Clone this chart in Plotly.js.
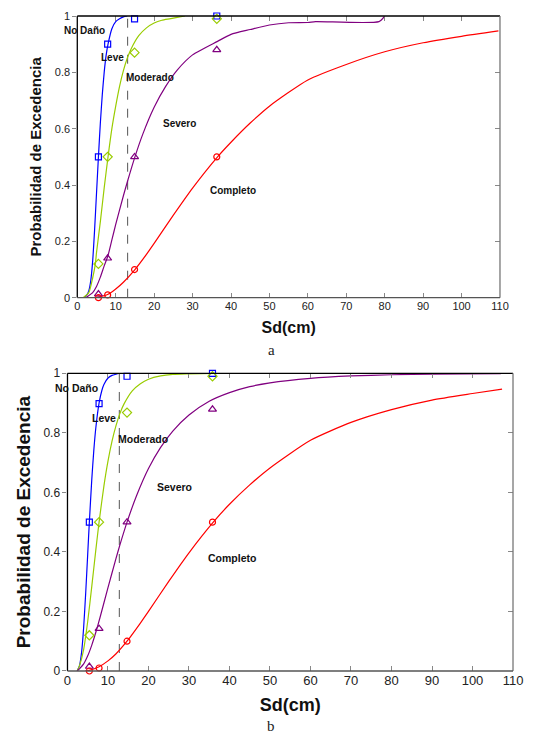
<!DOCTYPE html>
<html><head><meta charset="utf-8">
<script src="https://cdn.plot.ly/plotly-3.0.1.min.js"></script>
<style>html,body{margin:0;padding:0;background:#fff}#chart{width:536px;height:738px}</style>
</head><body><div id="chart"></div>
<script>
// ---------- Panel a (top) ----------
const markX_a = [5.5, 7.9, 14.9, 36.3];
const markND_a = [0.5, 0.9, 0.99, 1.0];
const markLeve_a = [0.12, 0.5, 0.87, 0.99];
const markSev_a = [0.013, 0.14, 0.5, 0.88];
const markComp_a = [0, 0.01, 0.1, 0.5];

const ndX_a = [1.8, 2.5, 3, 3.5, 4, 4.5, 5, 5.5, 6, 6.5, 7, 7.5, 8, 9, 10, 11, 12, 13];
const ndY_a = [0, 0.01, 0.025, 0.06, 0.13, 0.24, 0.37, 0.5, 0.62, 0.72, 0.8, 0.86, 0.9, 0.955, 0.98, 0.99, 0.997, 1];

const leveX_a = [1.5, 3, 4, 4.7, 5, 6, 7, 8, 9, 10, 11, 12, 13, 14, 16, 18, 20, 22, 24, 26, 28];
const leveY_a = [0, 0.018, 0.07, 0.12, 0.16, 0.27, 0.39, 0.5, 0.6, 0.68, 0.75, 0.806, 0.85, 0.883, 0.93, 0.958, 0.975, 0.985, 0.99, 0.995, 1];

const sevX_a = [2.2, 4, 5, 6, 7, 8, 9, 10, 12, 13, 15, 17, 20, 23, 26, 30, 36.5, 40, 45, 50, 55, 60, 62, 78.5, 80];
const sevY_a = [0, 0.018, 0.04, 0.073, 0.113, 0.15, 0.205, 0.26, 0.362, 0.41, 0.5, 0.579, 0.676, 0.75, 0.808, 0.862, 0.91, 0.935, 0.952, 0.968, 0.976, 0.977, 0.98, 0.98, 1];

const compX_a = [4.5, 5.5, 8, 10, 12, 15, 18, 20, 25, 30, 36.5, 40, 45, 50, 60, 70, 80, 90, 100, 109.6];
const compY_a = [0, 0.002, 0.012, 0.031, 0.055, 0.1, 0.154, 0.193, 0.293, 0.389, 0.5, 0.552, 0.62, 0.68, 0.773, 0.828, 0.873, 0.905, 0.928, 0.947];

const dashX_a = [13.1, 13.1];

// ---------- Panel b (bottom) ----------
const markX_b = [5.4, 7.8, 14.7, 35.8];
const markND_b = [0.5, 0.898, 0.99, 1.0];
const markLeve_b = [0.12, 0.5, 0.868, 0.99];
const markSev_b = [0.015, 0.142, 0.5, 0.879];
const markComp_b = [0, 0.01, 0.1, 0.5];

const ndX_b = [2.4, 3, 3.5, 4, 4.5, 5, 5.4, 6, 6.5, 7, 7.8, 8.5, 9, 10, 11, 12, 13];
const ndY_b = [0, 0.02, 0.065, 0.148, 0.263, 0.394, 0.5, 0.643, 0.741, 0.817, 0.9, 0.943, 0.962, 0.984, 0.993, 0.997, 1];

const leveX_b = [2.4, 3, 4, 5, 6, 7, 7.8, 9, 10, 11, 12, 13, 14, 16, 18, 20, 23, 26, 30, 36];
const leveY_b = [0, 0.019, 0.073, 0.167, 0.284, 0.407, 0.5, 0.622, 0.705, 0.772, 0.825, 0.867, 0.898, 0.941, 0.965, 0.98, 0.991, 0.996, 0.998, 1];

const sevX_b = [2.4, 3, 4, 5, 6, 7, 8, 10, 12, 13, 14.7, 17, 20, 23, 26, 30, 35, 40, 45, 50, 60, 70, 80, 90, 107];
const sevY_b = [0, 0.008, 0.024, 0.051, 0.087, 0.13, 0.178, 0.28, 0.379, 0.426, 0.5, 0.587, 0.68, 0.751, 0.806, 0.86, 0.906, 0.935, 0.955, 0.968, 0.983, 0.991, 0.995, 0.997, 0.999];

const compX_b = [4.4, 5.4, 7.8, 10, 12, 14.7, 18, 20, 25, 30, 36, 40, 45, 50, 60, 70, 80, 90, 100, 107.3];
const compY_b = [0, 0.002, 0.0145, 0.034, 0.058, 0.1, 0.161, 0.2, 0.301, 0.397, 0.5, 0.56, 0.625, 0.682, 0.775, 0.835, 0.878, 0.91, 0.932, 0.947];

const dashX_b = [12.8, 12.8];
const dashY = [0, 1];

// Labels
const stateNames = ['No Daño', 'Leve', 'Moderado', 'Severo', 'Completo'];
const labelX_a = [2.0, 9.2, 18.9, 26.5, 40.5];
const labelY_a = [0.948, 0.852, 0.783, 0.617, 0.38];
const labelX_b = [2.3, 9.0, 18.6, 26.5, 40.5];
const labelY_b = [0.95, 0.851, 0.78, 0.617, 0.38];

const xTicks = [0, 10, 20, 30, 40, 50, 60, 70, 80, 90, 100, 110];
const yTicks = [0, 0.2, 0.4, 0.6, 0.8, 1];

const C_BLUE = '#0000ff', C_GREEN = '#99cc00', C_PURPLE = '#800080', C_RED = '#ff0000';
const FONT = 'Liberation Sans, Arial, sans-serif';

function lineTr(x, y, color, xa, ya) {
  return {x: x, y: y, mode: 'lines', line: {color: color, width: 1.2, shape: 'spline', smoothing: 0.6}, xaxis: xa, yaxis: ya, hoverinfo: 'skip', showlegend: false, cliponaxis: true};
}
function markTr(x, y, color, sym, xa, ya, size) {
  return {x: x, y: y, mode: 'markers', marker: {symbol: sym, color: color, size: size, line: {color: color, width: 1.2}}, xaxis: xa, yaxis: ya, showlegend: false, cliponaxis: false};
}
function dashTr(x, xa, ya) {
  return {x: x, y: dashY, mode: 'lines', line: {color: '#555555', width: 1, dash: 'dash'}, xaxis: xa, yaxis: ya, showlegend: false, hoverinfo: 'skip'};
}

const traces = [
  dashTr(dashX_a, 'x', 'y'),
  lineTr(ndX_a, ndY_a, C_BLUE, 'x', 'y'),
  lineTr(leveX_a, leveY_a, C_GREEN, 'x', 'y'),
  lineTr(sevX_a, sevY_a, C_PURPLE, 'x', 'y'),
  lineTr(compX_a, compY_a, C_RED, 'x', 'y'),
  markTr(markX_a, markND_a, C_BLUE, 'square-open', 'x', 'y', 6),
  markTr(markX_a, markLeve_a, C_GREEN, 'diamond-open', 'x', 'y', 7),
  markTr(markX_a, markSev_a, C_PURPLE, 'triangle-up-open', 'x', 'y', 7),
  markTr(markX_a, markComp_a, C_RED, 'circle-open', 'x', 'y', 6),

  dashTr(dashX_b, 'x2', 'y2'),
  lineTr(ndX_b, ndY_b, C_BLUE, 'x2', 'y2'),
  lineTr(leveX_b, leveY_b, C_GREEN, 'x2', 'y2'),
  lineTr(sevX_b, sevY_b, C_PURPLE, 'x2', 'y2'),
  lineTr(compX_b, compY_b, C_RED, 'x2', 'y2'),
  markTr(markX_b, markND_b, C_BLUE, 'square-open', 'x2', 'y2', 6),
  markTr(markX_b, markLeve_b, C_GREEN, 'diamond-open', 'x2', 'y2', 7),
  markTr(markX_b, markSev_b, C_PURPLE, 'triangle-up-open', 'x2', 'y2', 7),
  markTr(markX_b, markComp_b, C_RED, 'circle-open', 'x2', 'y2', 6)
];

const domA = {x: [0.1442, 0.9328], y: [0.5966, 0.9783]};
const domB = {x: [0.1259, 0.9571], y: [0.0908, 0.4942]};

function xAxis(dom, anchor, fs, titleFs, standoff) {
  return {domain: dom, anchor: anchor, range: [0, 110], tickvals: xTicks, ticks: 'inside', ticklen: 5, tickcolor: '#888',
    mirror: 'ticks', showline: false, showgrid: false, zeroline: false, tickfont: {family: FONT, size: fs, color: '#222'},
    title: {text: 'Sd(cm)', font: {family: FONT, size: titleFs, color: '#111', weight: 'bold'}, standoff: standoff}, automargin: false};
}
function yAxis(dom, anchor, fs, titleFs, standoff) {
  return {domain: dom, anchor: anchor, range: [0, 1], tickvals: yTicks, ticks: 'outside', ticklen: 4, tickcolor: '#888',
    showline: false, showgrid: false, zeroline: false, tickfont: {family: FONT, size: fs, color: '#222'},
    title: {text: 'Probabilidad de Excedencia', font: {family: FONT, size: titleFs, color: '#111', weight: 'bold'}, standoff: standoff}, automargin: false};
}
function yRight(dom, overlay, anchor) {
  return {domain: dom, overlaying: overlay, anchor: anchor, side: 'right', range: [0, 1], tickvals: yTicks, ticks: 'inside', ticklen: 5,
    tickcolor: '#888', showticklabels: false, showgrid: false, zeroline: false, showline: false};
}

function frame(xr, yr) {
  const s = [];
  s.push({type: 'line', xref: xr, yref: yr, x0: 0, x1: 1, y0: 1, y1: 1, line: {color: '#000', width: 1.3}});
  s.push({type: 'line', xref: xr, yref: yr, x0: 0, x1: 0, y0: 0, y1: 1, line: {color: '#000', width: 1.3}});
  s.push({type: 'line', xref: xr, yref: yr, x0: 1, x1: 1, y0: 0, y1: 1, line: {color: '#777', width: 1.3}});
  s.push({type: 'line', xref: xr, yref: yr, x0: 0, x1: 1, y0: 0, y1: 0, line: {color: '#555', width: 1.3}});
  return s;
}

const annotations = [];
stateNames.forEach((t, i) => {
  annotations.push({text: t, x: labelX_a[i], y: labelY_a[i], xref: 'x', yref: 'y', showarrow: false,
    font: {family: FONT, size: 10, color: '#111', weight: 'bold'}});
  annotations.push({text: t, x: labelX_b[i], y: labelY_b[i], xref: 'x2', yref: 'y2', showarrow: false,
    font: {family: FONT, size: 10.5, color: '#111', weight: 'bold'}});
});
annotations.push({text: 'a', x: 271.5/536, y: 1 - 350/738, xref: 'paper', yref: 'paper', showarrow: false,
  xanchor: 'center', yanchor: 'middle',
  font: {family: 'Liberation Serif, Times New Roman, serif', size: 15, color: '#222'}});
annotations.push({text: 'b', x: 271/536, y: 1 - 726/738, xref: 'paper', yref: 'paper', showarrow: false,
  xanchor: 'center', yanchor: 'middle',
  font: {family: 'Liberation Serif, Times New Roman, serif', size: 15, color: '#222'}});

const layout = {
  width: 536, height: 738,
  margin: {l: 0, r: 0, t: 0, b: 0},
  paper_bgcolor: '#fff', plot_bgcolor: '#fff',
  showlegend: false,
  xaxis: xAxis(domA.x, 'y', 11, 16, 11),
  yaxis: yAxis(domA.y, 'x', 11, 15, 9),
  yaxis3: yRight(domA.y, 'y', 'x'),
  xaxis2: xAxis(domB.x, 'y2', 13, 18, 11),
  yaxis2: yAxis(domB.y, 'x2', 12, 19, 7),
  yaxis4: yRight(domB.y, 'y2', 'x2'),
  shapes: frame('x domain', 'y domain').concat(frame('x2 domain', 'y2 domain')),
  annotations: annotations
};

// dummy traces to activate right-side tick axes
traces.push({x: [0], y: [0], xaxis: 'x', yaxis: 'y3', mode: 'markers', marker: {opacity: 0}, showlegend: false, hoverinfo: 'skip'});
traces.push({x: [0], y: [0], xaxis: 'x2', yaxis: 'y4', mode: 'markers', marker: {opacity: 0}, showlegend: false, hoverinfo: 'skip'});

Plotly.newPlot('chart', traces, layout, {staticPlot: true, displayModeBar: false});
</script></body></html>
